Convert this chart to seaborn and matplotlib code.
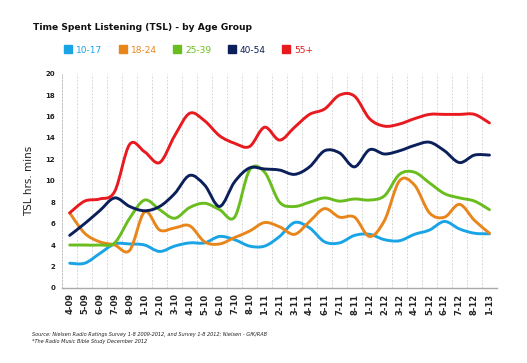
import matplotlib
matplotlib.use("Agg")
import matplotlib.pyplot as plt
import numpy as np
import pandas as pd
import seaborn as sns
from matplotlib import font_manager
from matplotlib.lines import Line2D
from matplotlib.patches import PathPatch
from matplotlib.path import Path

months = ["4-09", "5-09", "6-09", "7-09", "8-09", "1-10", "2-10", "3-10", "4-10",
          "5-10", "6-10", "7-10", "8-10", "1-11", "2-11", "3-11", "4-11", "6-11",
          "7-11", "8-11", "1-12", "2-12", "3-12", "4-12", "5-12", "6-12", "7-12",
          "8-12", "1-13"]

age_10_17 = [2.3, 2.3, 3.2, 4.1, 4.1, 4.0, 3.4, 3.9, 4.2, 4.2, 4.8, 4.5, 3.9, 3.9, 4.8,
             6.1, 5.6, 4.3, 4.2, 4.9, 5.0, 4.5, 4.4, 5.0, 5.4, 6.2, 5.5, 5.1, 5.05]
age_18_24 = [7.0, 5.1, 4.3, 4.0, 3.5, 7.1, 5.4, 5.6, 5.8, 4.3, 4.1, 4.7, 5.3, 6.1, 5.7,
             5.0, 6.2, 7.4, 6.6, 6.6, 4.8, 6.3, 10.0, 9.6, 7.0, 6.6, 7.8, 6.3, 5.1]
age_25_39 = [4.0, 4.0, 4.0, 4.2, 6.5, 8.2, 7.3, 6.5, 7.5, 7.9, 7.3, 6.6, 11.0, 10.8, 8.0,
             7.6, 8.0, 8.4, 8.1, 8.3, 8.2, 8.6, 10.6, 10.8, 9.8, 8.8, 8.4, 8.1, 7.3]
age_40_54 = [4.9, 6.0, 7.2, 8.4, 7.6, 7.2, 7.6, 8.8, 10.5, 9.6, 7.6, 9.9, 11.2, 11.1, 11.0,
             10.6, 11.3, 12.8, 12.6, 11.3, 12.9, 12.5, 12.8, 13.3, 13.6, 12.8, 11.7, 12.4, 12.4]
age_55_plus = [7.0, 8.1, 8.3, 9.0, 13.4, 12.7, 11.7, 14.2, 16.3, 15.6, 14.2, 13.5, 13.2, 15.0,
               13.8, 15.0, 16.2, 16.7, 18.0, 17.9, 15.8, 15.1, 15.3, 15.8, 16.2, 16.2, 16.2,
               16.2, 15.4]

groups = ["10-17", "18-24", "25-39", "40-54", "55+"]
colors = ["#19a4e6", "#e8861c", "#6abd1f", "#0b1f5a", "#e81a1f"]


def smooth_path(xy):
    # Catmull-Rom through the data points, written as cubic Bezier segments
    pts = np.asarray(xy)
    verts = [pts[0]]
    codes = [Path.MOVETO]
    n = len(pts)
    for i in range(n - 1):
        p0 = pts[max(i - 1, 0)]
        p1 = pts[i]
        p2 = pts[i + 1]
        p3 = pts[min(i + 2, n - 1)]
        c1 = p1 + (p2 - p0) / 6
        c2 = p2 - (p3 - p1) / 6
        verts += [c1, c2, p2]
        codes += [Path.CURVE4] * 3
    return Path(verts, codes)


def narrow_font():
    try:
        font_manager.findfont("Liberation Sans Narrow", fallback_to_default=False)
        return "Liberation Sans Narrow", 8.5
    except ValueError:
        return "DejaVu Sans", 6.6


def main() -> None:
    frames = []
    for name, vals in zip(groups, [age_10_17, age_18_24, age_25_39, age_40_54, age_55_plus]):
        frames.append(pd.DataFrame({"month": months, "tsl": vals, "group": name}))
    df = pd.concat(frames, ignore_index=True)

    sns.set_theme(style="white")
    fig = plt.figure(figsize=(5.27, 3.63), dpi=100)
    ax = fig.add_axes([0.118, 0.207, 0.825, 0.59])

    sns.lineplot(data=df, x="month", y="tsl", hue="group", hue_order=groups,
                 palette=colors, sort=False, legend=False, ax=ax)

    # swap the straight segments for smoothed curves, like the original
    for line, col in zip(list(ax.lines), colors):
        patch = PathPatch(smooth_path(line.get_xydata()), facecolor="none",
                          edgecolor=col, lw=2.1, capstyle="round", joinstyle="round")
        ax.add_patch(patch)
        line.set_visible(False)

    ax.set_xlim(-0.5, len(months) - 0.5)
    ax.set_ylim(0, 20)
    ax.set_yticks(range(0, 21, 2))
    ax.set_xticks(range(len(months)))
    ax.set_xticklabels(months, rotation=90, fontsize=6, fontweight="bold", color="#222222")
    ax.tick_params(axis="y", labelsize=5, length=2, width=0.6, color="#999999", pad=3)
    ax.tick_params(axis="x", length=0, pad=4)
    for lab in ax.get_yticklabels():
        lab.set_fontweight("bold")
        lab.set_color("#222222")

    ax.set_xticks(np.arange(-0.5, len(months), 1), minor=True)
    ax.grid(False)
    ax.grid(True, which="minor", axis="x", color="#cccccc", lw=0.6, ls=(0, (2, 2)))
    ax.tick_params(which="minor", length=0)

    for side in ["top", "right"]:
        ax.spines[side].set_visible(False)
    ax.spines["left"].set_color("#bbbbbb")
    ax.spines["left"].set_linestyle((0, (2, 2)))
    ax.spines["left"].set_linewidth(0.6)
    ax.spines["bottom"].set_color("#aaaaaa")
    ax.spines["bottom"].set_linewidth(1.0)

    ax.set_xlabel("")
    ax.set_ylabel("TSL hrs. mins", fontsize=7.5, color="#222222", labelpad=8)

    fam, size = narrow_font()
    fig.text(0.063, 0.925, "Time Spent Listening (TSL) - by Age Group", fontsize=size,
             fontweight="bold", family=fam, color="#111111", va="center")

    handles = [Line2D([], [], marker="s", ls="none", markersize=6, markerfacecolor=c,
                      markeredgecolor=c) for c in colors]
    fig.legend(handles, groups, loc="center left", bbox_to_anchor=(0.105, 0.862),
               ncol=5, frameon=False, fontsize=6.5, labelcolor=colors, handletextpad=0.4,
               columnspacing=1.75, handlelength=1.0)

    fig.text(0.06, 0.075,
             "Source: Nielsen Radio Ratings Survey 1-8 2009-2012, and Survey 1-8 2012; Nielsen - GfK/RAB",
             fontsize=3.6, style="italic", color="#222222")
    fig.text(0.06, 0.055, "*The Radio Music Bible Study December 2012",
             fontsize=3.6, style="italic", color="#222222")

    fig.savefig("out.png", dpi=100)
    plt.close(fig)


if __name__ == "__main__":
    main()
